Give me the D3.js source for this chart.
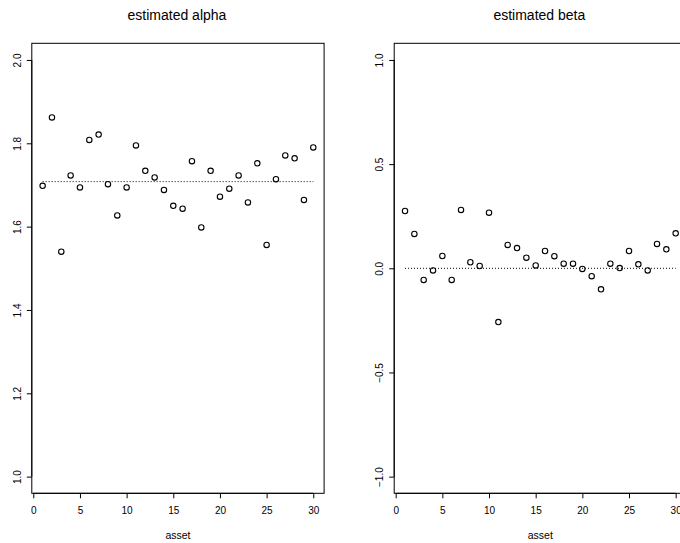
<!DOCTYPE html>
<html>
<head>
<meta charset="utf-8">
<script src="https://cdn.jsdelivr.net/npm/d3@7"></script>
<style>
  html, body { margin: 0; padding: 0; background: #fff; }
  svg { display: block; }
  text { font-family: "Liberation Sans", Arial, Helvetica, sans-serif; fill: #000; }
</style>
</head>
<body>
<svg id="chart" width="680" height="543"></svg>
<script>
const assets = d3.range(1, 31);
const alphaValues = [1.698, 1.862, 1.540, 1.723, 1.694, 1.808, 1.821, 1.702, 1.627, 1.694,
                     1.795, 1.734, 1.718, 1.688, 1.650, 1.643, 1.757, 1.598, 1.734, 1.672,
                     1.691, 1.723, 1.658, 1.752, 1.556, 1.714, 1.771, 1.764, 1.664, 1.790];
const betaValues = [0.275, 0.165, -0.056, -0.010, 0.059, -0.056, 0.280, 0.029, 0.011, 0.267,
                    -0.258, 0.112, 0.097, 0.051, 0.014, 0.083, 0.058, 0.022, 0.022, -0.003,
                    -0.038, -0.101, 0.022, 0.001, 0.083, 0.019, -0.010, 0.117, 0.091, 0.168];
const xTicks = [0, 5, 10, 15, 20, 25, 30];
const alphaTicks = [1.0, 1.2, 1.4, 1.6, 1.8, 2.0];
const betaTicks = [-1.0, -0.5, 0.0, 0.5, 1.0];
const alphaRef = d3.mean(alphaValues);
const betaRef = 0;

const svg = d3.select("#chart");

function panel(opts) {
  const { left, right, top, bottom, ylim, values, yTicks, title, ref } = opts;
  const xpad = (30 - 1) * 0.04;
  const ypad = (ylim[1] - ylim[0]) * 0.04;
  const x = d3.scaleLinear().domain([1 - xpad, 30 + xpad]).range([left, right]);
  const y = d3.scaleLinear().domain([ylim[0] - ypad, ylim[1] + ypad]).range([bottom, top]);
  const g = svg.append("g");

  // box
  g.append("rect")
    .attr("x", left).attr("y", top)
    .attr("width", right - left).attr("height", bottom - top)
    .attr("fill", "none").attr("stroke", "#000").attr("stroke-width", 1);

  // x axis
  const xa = g.append("g").attr("transform", `translate(0,${bottom})`)
    .call(d3.axisBottom(x).tickValues(xTicks).tickSize(5).tickPadding(9)
      .tickFormat(d3.format("d")));
  xa.select(".domain").attr("d", `M${x(xTicks[0])},0H${x(xTicks[xTicks.length-1])}`);
  xa.selectAll("text").style("font-size", "10px")
    .style("font-family", '"Liberation Sans", Arial, sans-serif');

  // y axis
  const ya = g.append("g").attr("transform", `translate(${left},0)`)
    .call(d3.axisLeft(y).tickValues(yTicks).tickSize(5).tickFormat(d3.format(".1f")));
  ya.select(".domain").attr("d", `M0,${y(yTicks[0])}V${y(yTicks[yTicks.length-1])}`);
  ya.selectAll(".tick text")
    .attr("x", null).attr("dy", null)
    .attr("text-anchor", "middle")
    .attr("transform", "translate(-11,0) rotate(-90)")
    .style("font-size", "10px")
    .style("font-family", '"Liberation Sans", Arial, sans-serif');

  // title
  g.append("text")
    .attr("x", (left + right) / 2 - 1).attr("y", 20)
    .attr("text-anchor", "middle")
    .style("font-size", "14px")
    .text(title);

  // x label
  g.append("text")
    .attr("x", (left + right) / 2).attr("y", 539)
    .attr("text-anchor", "middle")
    .style("font-size", "10.5px")
    .text("asset");

  // reference dotted line
  g.append("line")
    .attr("x1", x(1)).attr("x2", x(30))
    .attr("y1", y(ref)).attr("y2", y(ref))
    .attr("stroke", "#000").attr("stroke-width", 1)
    .attr("stroke-dasharray", "1,2");

  // points
  g.selectAll("circle").data(assets).enter().append("circle")
    .attr("cx", d => x(d))
    .attr("cy", (d, i) => y(values[i]))
    .attr("r", 2.7)
    .attr("fill", "none").attr("stroke", "#000").attr("stroke-width", 1.1);
}

panel({ left: 31.8, right: 324.1, top: 43.3, bottom: 493.3, ylim: [1, 2],
        values: alphaValues, yTicks: alphaTicks, title: "estimated alpha", ref: alphaRef });
panel({ left: 394.2, right: 686.5, top: 43.3, bottom: 493.3, ylim: [-1, 1],
        values: betaValues, yTicks: betaTicks, title: "estimated beta", ref: betaRef });
</script>
</body>
</html>
